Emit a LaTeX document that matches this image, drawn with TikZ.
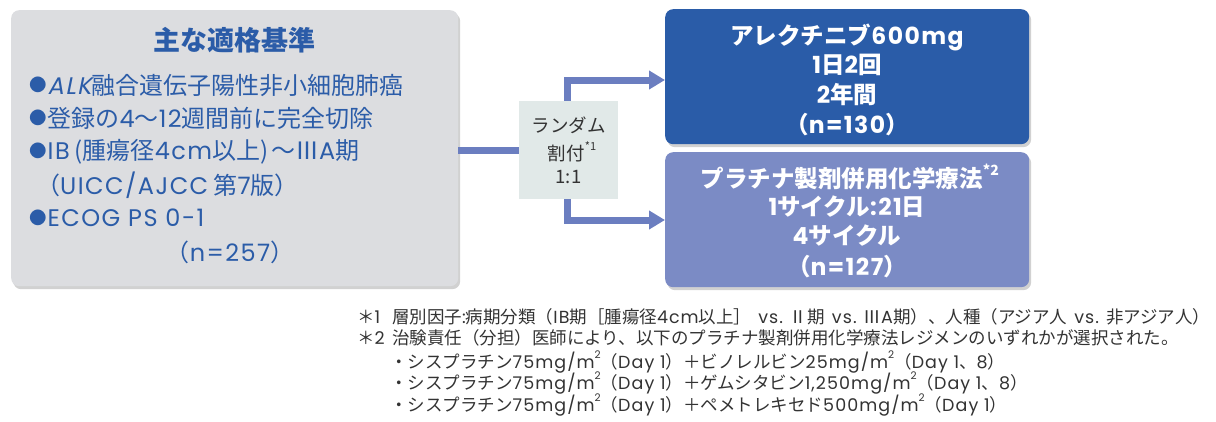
\documentclass[tikz,border=0pt]{standalone}
\usepackage{fontspec}
\setmainfont{Noto Sans CJK JP}
\newfontfamily\lat[Scale=1.0,LetterSpace=6]{Poppins}
\newfontfamily\latit[Scale=1.0,LetterSpace=6,FakeSlant=0.2]{Poppins}
\usetikzlibrary{arrows.meta,shadows}
\definecolor{titleblue}{HTML}{2B5CA8}
\definecolor{boxgray}{HTML}{DCDDE0}
\definecolor{linkblue}{HTML}{6B7EC0}
\definecolor{randfill}{HTML}{E1E9E8}
\definecolor{topblue}{HTML}{2A5CA8}
\definecolor{botblue}{HTML}{7B8BC5}
\definecolor{notegray}{HTML}{333333}
\newcommand\supx[1]{\raisebox{0.55em}{\fontsize{0.6em}{0.6em}\selectfont #1}}
\newcommand\bul{\raisebox{0.09em}{\fontsize{17.5}{18}\selectfont ●}\hspace{1pt}}
\newcommand\ws{\hspace{7pt}}
\tikzset{
  panel/.style={rounded corners=8pt, draw=none, anchor=north west,
    drop shadow={shadow xshift=2pt, shadow yshift=-3pt, fill=black, opacity=0.18}},
  crit/.style={anchor=west, inner sep=0pt, text=titleblue, font=\fontsize{24}{28}\selectfont},
  boxtxt/.style={inner sep=0pt, text=white, font=\bfseries\fontsize{23.5}{28}\selectfont},
  randtxt/.style={inner sep=0pt, text=notegray, font=\fontsize{18.5}{22}\selectfont},
  note/.style={anchor=west, inner sep=0pt, text=notegray, font=\fontsize{17.5}{21}\selectfont},
  flow/.style={draw=linkblue, line width=7pt},
  flowarrow/.style={flow, -{Triangle[length=16pt,width=18pt]}},
}
\begin{document}
\begin{tikzpicture}[x=1pt,y=-1pt]
\useasboundingbox (0,0) rectangle (1216,421);
% boxes
\node[panel, fill=boxgray, minimum width=447pt, minimum height=276pt] (left) at (11,10) {};
\node[panel, fill=topblue, minimum width=364pt, minimum height=135pt] (top) at (665,9) {};
\node[panel, fill=botblue, minimum width=364pt, minimum height=135pt] (bot) at (665,152) {};
\node[draw=none, fill=randfill, minimum width=99pt, minimum height=98pt, inner sep=0pt] (rand) at (568.5,150) {};
% connectors
\draw[flow] (left.east |- rand.west) -- (rand.west);
\coordinate (upc) at (567.5,80);
\coordinate (dnc) at (567.5,220);
\draw[flowarrow] (upc |- rand.north) -- (upc) -- (upc -| top.west);
\draw[flowarrow] (dnc |- rand.south) -- (dnc) -- (dnc -| bot.west);
% left box text
\node[inner sep=0pt, text=titleblue, font=\bfseries\fontsize{27}{30}\selectfont] (title) at (234,40) {主な適格基準};
\node[crit] (c1) at (29,85) {\bul{\latit ALK}融合遺伝子陽性非小細胞肺癌};
\node[crit] (c2) at (29,118) {\bul 登録の{\lat 4}〜{\lat 12}週間前に完全切除};
\node[crit] (c3) at (29,152) {\bul{\lat IB}\hspace{5pt}(腫瘍径{\lat 4cm}以上)\hspace{3pt}〜Ⅲ{\lat A}期};
\node[crit] (c4) at (36,185) {（{\lat UICC/AJCC} 第{\lat 7}版）};
\node[crit] (c5) at (29,218) {\bul{\lat ECOG PS 0-1}};
\node[crit, anchor=center] (c6) at (230,252) {（{\lat n=257}）};
% random box text
\node[randtxt] (r1) at (568.5,125) {ランダム};
\node[randtxt] (r2) at (572,152) {割付\supx{*1}};
\node[randtxt] (r3) at (568.5,177) {1:1};
% top box text
\node[boxtxt] (t1) at (847,37) {アレクチニブ{\lat 600mg}};
\node[boxtxt] (t2) at (847,65) {{\lat 1}日{\lat 2}回};
\node[boxtxt] (t3) at (847,95) {{\lat 2}年間};
\node[boxtxt] (t4) at (847,125) {（{\lat n=130}）};
% bottom box text
\node[boxtxt] (b1) at (850,177) {プラチナ製剤併用化学療法\supx{*2}};
\node[boxtxt] (b2) at (847,207) {{\lat 1}サイクル{\lat :21}日};
\node[boxtxt] (b3) at (847,236) {{\lat 4}サイクル};
\node[boxtxt] (b4) at (847,267) {（{\lat n=127}）};
% footnotes
\node[note] (n1a) at (357,317) {＊{\lat 1}};
\node[note] (n1) at (392,317) {層別因子{\lat :}病期分類（{\lat IB}期［腫瘍径{\lat 4cm}以上］\ws{\lat vs.}\ws Ⅱ期\ws{\lat vs.}\ws Ⅲ{\lat A}期）、人種（アジア人\ws{\lat vs.}\ws 非アジア人）};
\node[note] (n2a) at (357,338) {＊{\lat 2}};
\node[note] (n2) at (392,338) {治験責任（分担）医師により、以下のプラチナ製剤併用化学療法レジメンのいずれかが選択された。};
\node[note] (n3) at (390,362) {・シスプラチン{\lat 75mg/m}\supx{\lat 2}（{\lat Day 1}）＋ビノレルビン{\lat 25mg/m}\supx{\lat 2}（{\lat Day 1}、{\lat 8}）};
\node[note] (n4) at (390,383) {・シスプラチン{\lat 75mg/m}\supx{\lat 2}（{\lat Day 1}）＋ゲムシタビン{\lat 1,250mg/m}\supx{\lat 2}（{\lat Day 1}、{\lat 8}）};
\node[note] (n5) at (390,405) {・シスプラチン{\lat 75mg/m}\supx{\lat 2}（{\lat Day 1}）＋ペメトレキセド{\lat 500mg/m}\supx{\lat 2}（{\lat Day 1}）};
\end{tikzpicture}
\end{document}
